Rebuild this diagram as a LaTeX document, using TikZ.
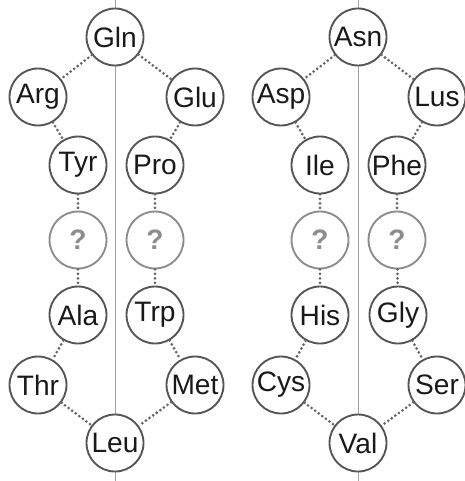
\documentclass[tikz,border=0pt]{standalone}
\usepackage{fontspec}
\setmainfont{Liberation Sans}
\usepackage{tikz}
\usetikzlibrary{positioning}

\definecolor{ringgray}{HTML}{555555}
\definecolor{dotgray}{HTML}{666666}
\definecolor{axisgray}{HTML}{A0A0A0}
\definecolor{unkgray}{HTML}{8C8C8C}

\tikzset{
  acid/.style={draw=ringgray,line width=1.6pt,circle,fill=white,inner sep=0pt,
    minimum size=1.71cm,font=\fontsize{24}{26}\selectfont,text=black!90},
  unknown/.style={acid,draw=unkgray,text=unkgray,font=\fontsize{24}{26}\selectfont\bfseries},
  link/.style={draw=dotgray,line width=2.6pt,line cap=round,dash pattern=on 0pt off 3.8pt},
  axis/.style={draw=axisgray,line width=0.8pt}
}

\begin{document}
\begin{tikzpicture}[x=0.03cm,y=-0.03cm]

  \useasboundingbox (0,0) rectangle (464,481);

  % symmetry axes
  \coordinate (Ltop) at (115,0);
  \coordinate (Lbot) at (115,481);
  \coordinate (Rtop) at (358,0);
  \coordinate (Rbot) at (358,481);
  \path [axis] (Ltop) -- (Lbot);
  \path [axis] (Rtop) -- (Rbot);

  % left ring
  \node [acid] (Gln) at (115,37)  {Gln};
  \node [acid] (Arg) at (38,97)   {Arg};
  \node [acid] (Glu) at (195,97)  {Glu};
  \node [acid] (Tyr) at (78,165)  {Tyr};
  \node [acid] (Pro) at (155,165) {Pro};
  \node [unknown] (Lq_1) at (78,240)  {?};
  \node [unknown] (Lq_2) at (155,240) {?};
  \node [acid] (Ala) at (78,315)  {Ala};
  \node [acid] (Trp) at (155,315) {Trp};
  \node [acid] (Thr) at (38,385)  {Thr};
  \node [acid] (Met) at (195,385) {Met};
  \node [acid] (Leu) at (115,443) {Leu};

  \path [link]
    (Gln)  edge (Arg)
    (Gln)  edge (Glu)
    (Arg)  edge (Tyr)
    (Glu)  edge (Pro)
    (Tyr)  edge (Lq_1)
    (Pro)  edge (Lq_2)
    (Lq_1) edge (Ala)
    (Lq_2) edge (Trp)
    (Ala)  edge (Thr)
    (Trp)  edge (Met)
    (Thr)  edge (Leu)
    (Met)  edge (Leu);

  % right ring
  \node [acid] (Asn) at (358,37)  {Asn};
  \node [acid] (Asp) at (281,97)  {Asp};
  \node [acid] (Lus) at (437,97)  {Lus};
  \node [acid] (Ile) at (320,165) {Ile};
  \node [acid] (Phe) at (397,165) {Phe};
  \node [unknown] (Rq_1) at (320,240) {?};
  \node [unknown] (Rq_2) at (397,240) {?};
  \node [acid] (His) at (320,315) {His};
  \node [acid] (Gly) at (398,315) {Gly};
  \node [acid] (Cys) at (281,385) {Cys};
  \node [acid] (Ser) at (437,385) {Ser};
  \node [acid] (Val) at (358,443) {Val};

  \path [link]
    (Asn)  edge (Asp)
    (Asn)  edge (Lus)
    (Asp)  edge (Ile)
    (Lus)  edge (Phe)
    (Ile)  edge (Rq_1)
    (Phe)  edge (Rq_2)
    (Rq_1) edge (His)
    (Rq_2) edge (Gly)
    (His)  edge (Cys)
    (Gly)  edge (Ser)
    (Cys)  edge (Val)
    (Ser)  edge (Val);

\end{tikzpicture}
\end{document}
